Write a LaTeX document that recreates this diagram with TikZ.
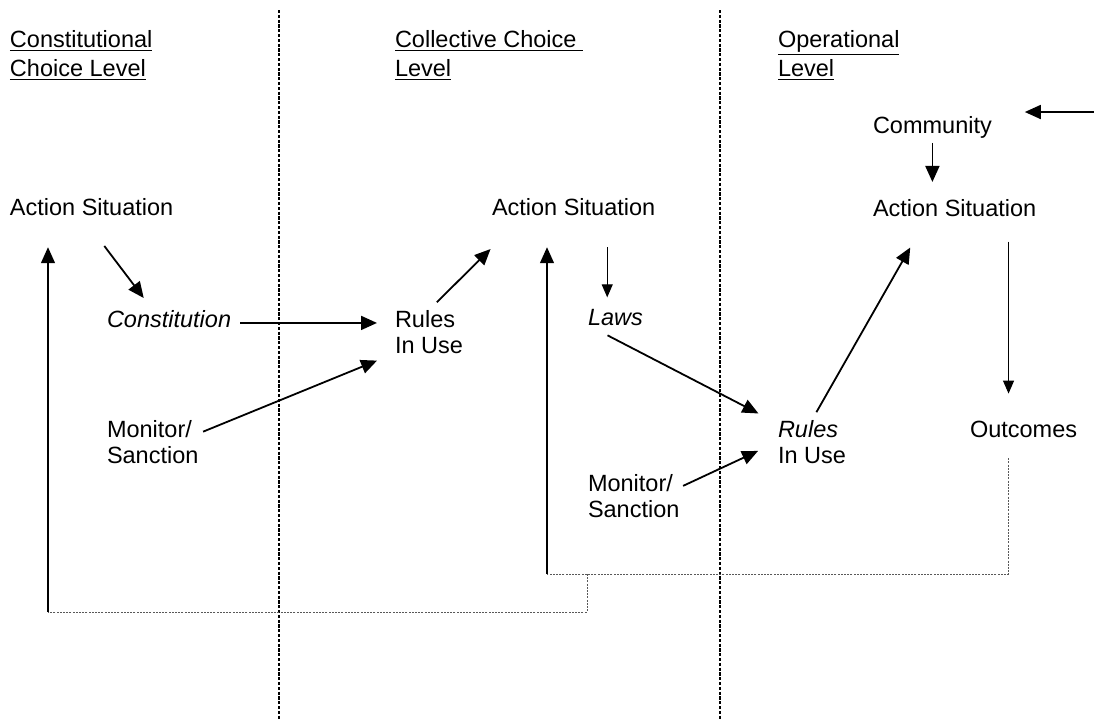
\documentclass[tikz,border=0pt]{standalone}
\usepackage{fontspec}
\setmainfont{Liberation Sans}
\usetikzlibrary{positioning, arrows.meta}
\tikzset{
every node/.style = {inner sep = 0pt, outer sep = 0pt,
   font = \fontsize{11.75}{13}\selectfont},
item/.style = {anchor = base west},
block/.style = {anchor = north west, align = left},
heading/.style = {anchor = north west, align = left,
   font = \fontsize{11.75}{14.5}\selectfont},
flow/.style = {-{Triangle[length = 8pt, width = 7pt]}, line width = 0.9pt},
thinflow/.style = {-{Triangle[length = 6.5pt, width = 5.5pt]}, line width = 0.5pt},
feedback/.style = {-{Triangle[length = 8pt, width = 7pt]}, line width = 0.7pt},
backline/.style = {line width = 0.5pt, black!65, dash pattern = on 1pt off 0.6pt},
divider/.style = {line width = 0.7pt, dash pattern = on 1.6pt off 0.8pt}
}

\begin{document}
\begin{tikzpicture}[x = 0.5pt, y = -0.5pt]
\useasboundingbox (0,0) rectangle (1094,719);

%% Level boundaries
\draw [divider] (279,10) -- (279,719);
\draw [divider] (720,10) -- (720,719);

%% Headings
\node [heading] (hconst) at (10,30) {\underline{Constitutional}\\\underline{Choice Level}};
\node [heading] (hcoll) at (395,30) {\underline{Collective Choice\ }\\\underline{Level}};
\node [heading] (hoper) at (778,30) {\underline{Operational}\\\underline{Level}};

%% Situations
\node [item] (com) at (873,133) {Community};
\node [item] (as1) at (10,215) {Action Situation};
\node [item] (as2) at (492,215) {Action Situation};
\node [item] (as3) at (873,216) {Action Situation};

%% Rules and sanctions
\node [item] (cons) at (107,327) {\textit{Constitution}};
\node [block] (rules1) at (395,310) {Rules\\In Use};
\node [block] (mon1) at (107,420) {Monitor/\\Sanction};
\node [item] (laws) at (588,325) {\textit{Laws}};
\node [block] (rules2) at (778,420) {\textit{Rules}\\In Use};
\node [block] (mon2) at (588,474) {Monitor/\\Sanction};
\node [item] (outc) at (970,437) {Outcomes};

%% Flows
\coordinate (inflow) at (1094,112);
\path [flow] (inflow) edge [shorten > = 16.5pt] (inflow -| com.east);
\path [flow] (com.south) edge [shorten < = 2.5pt, shorten > = 8.5pt] (com.south |- as3.north);

\path [flow] (as1.219) edge [shorten < = 19.3pt, shorten > = 7.5pt] (cons.152);
\path [flow] (cons.-4) edge [shorten < = 4.5pt, shorten > = 9pt] (cons.-4 -| rules1.west);
\path [flow] (mon1.10) edge [shorten < = 2.5pt, shorten > = 9.7pt] (rules1.south west);
\path [flow] (rules1.north) edge [shorten < = 5.5pt, shorten > = 24pt] (as2.190);

\path [thinflow] (as2.south -| laws.135) edge [shorten < = 16pt, shorten > = 5.75pt] (laws.135);
\path [flow] (laws.south west) edge [shorten < = 11pt, shorten > = 11pt] (rules2.152);
\path [flow] (mon2.10) edge [shorten < = 2pt, shorten > = 11pt] (rules2.west);
\path [flow] (rules2.north) edge [shorten < = 4.5pt, shorten > = 18pt] (as3.198);
\path [thinflow] (as3.south -| outc.151) edge [shorten < = 12.75pt, shorten > = 13.5pt] (outc.151);

%% Feedback to higher levels
\coordinate (loop1) at (48,612);
\coordinate (loop2) at (547,574);
\coordinate (branch) at (587,574);
\draw [backline, shorten < = 10.5pt] (outc.151 |- outc.south) |- (loop2);
\draw [backline] (branch) |- (loop1);
\path [feedback] (loop2) edge [shorten > = 16pt] (loop2 |- as2.south);
\path [feedback] (loop1) edge [shorten > = 16pt] (loop1 |- as1.south);

\end{tikzpicture}
\end{document}
